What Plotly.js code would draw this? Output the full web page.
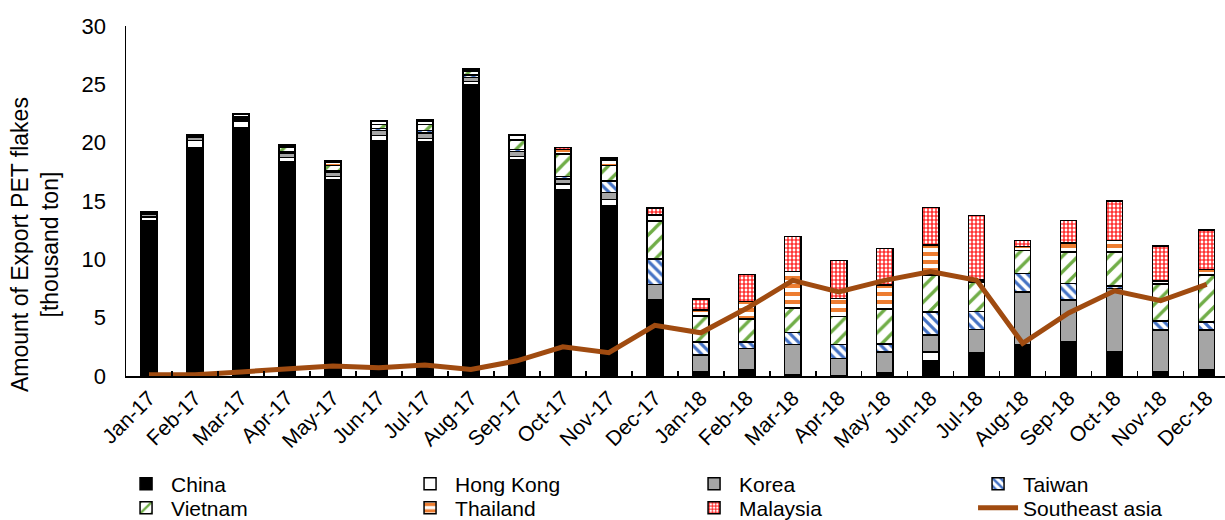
<!DOCTYPE html>
<html>
<head>
<meta charset="utf-8">
<script src="https://cdn.plot.ly/plotly-3.0.1.min.js"></script>
<style>
  html, body { margin: 0; padding: 0; background: #ffffff; }
  #chart { width: 1225px; height: 520px; }
</style>
</head>
<body>
<div id="chart"></div>
<script>
// Monthly export of PET flakes by destination, thousand ton
const months = ['Jan-17','Feb-17','Mar-17','Apr-17','May-17','Jun-17','Jul-17','Aug-17','Sep-17','Oct-17','Nov-17','Dec-17',
                'Jan-18','Feb-18','Mar-18','Apr-18','May-18','Jun-18','Jul-18','Aug-18','Sep-18','Oct-18','Nov-18','Dec-18'];

const china    = [13.35, 19.55, 21.25, 18.35, 16.85, 20.2, 20.05, 24.95, 18.5, 16.0, 14.6, 6.55,
                  0.4, 0.55, 0.1, 0.05, 0.25, 1.35, 2.0, 2.65, 2.9, 2.05, 0.4, 0.5];
const hongKong = [0.3, 0.65, 0.6, 0.4, 0.25, 0.4, 0.3, 0.3, 0.3, 0.45, 0.55, 0,
                  0, 0, 0, 0, 0, 0.7, 0, 0.05, 0, 0, 0, 0];
const korea    = [0.2, 0.25, 0.2, 0.35, 0.4, 0.45, 0.5, 0.35, 0.45, 0.45, 0.6, 1.3,
                  1.4, 1.8, 2.6, 1.45, 1.8, 1.45, 2.0, 4.5, 3.6, 5.45, 3.55, 3.45];
const taiwan   = [0.1, 0.1, 0.05, 0.1, 0.1, 0.15, 0.2, 0.2, 0.15, 0.2, 0.95, 2.2,
                  1.1, 0.55, 1.05, 1.2, 0.7, 2.0, 1.55, 1.6, 1.45, 0.2, 0.75, 0.7];
const vietnam  = [0.05, 0.05, 0.15, 0.4, 0.45, 0.35, 0.5, 0.3, 0.85, 1.95, 1.35, 3.25,
                  2.25, 2.0, 2.1, 2.4, 3.0, 3.15, 2.5, 1.95, 2.7, 2.95, 3.2, 4.0];
const thailand = [0.05, 0.05, 0.15, 0.1, 0.3, 0.25, 0.3, 0.15, 0.35, 0.35, 0.45, 0.5,
                  0.5, 1.5, 3.1, 1.55, 2.05, 2.6, 0.2, 0.35, 0.75, 0.95, 0.25, 0.5];
const malaysia = [0, 0, 0.05, 0.1, 0.1, 0.1, 0.15, 0.1, 0.1, 0.2, 0.2, 0.6,
                  0.95, 2.3, 3.0, 3.25, 3.15, 3.2, 5.5, 0.5, 1.95, 3.4, 3.0, 3.35];
const southeastAsia = [0.1, 0.1, 0.35, 0.6, 0.85, 0.7, 0.95, 0.55, 1.3, 2.5, 2.0, 4.35,
                       3.7, 5.8, 8.2, 7.2, 8.2, 8.95, 8.2, 2.8, 5.4, 7.3, 6.45, 7.85];

const FONT = 'Liberation Sans, Arial, sans-serif';
const EDGE = { color: '#000000', width: 1.5 };
const BAR_W = 0.35;

function solidBar(name, values, color, legendId) {
  return {
    type: 'bar', name: name, x: months, y: values, width: BAR_W, legend: legendId,
    marker: { color: color, line: EDGE },
    hoverinfo: 'x+y+name'
  };
}

function patternBar(name, values, shape, fg, size, solidity, legendId) {
  return {
    type: 'bar', name: name, x: months, y: values, width: BAR_W, legend: legendId,
    marker: {
      color: '#ffffff',
      line: EDGE,
      pattern: { shape: shape, fgcolor: fg, bgcolor: '#ffffff', size: size, solidity: solidity, fillmode: 'replace' }
    },
    hoverinfo: 'x+y+name'
  };
}

const traces = [
  solidBar('China', china, '#000000', 'legend'),
  solidBar('Hong Kong', hongKong, '#ffffff', 'legend'),
  solidBar('Korea', korea, '#a5a5a5', 'legend'),
  patternBar('Taiwan', taiwan, '\\', '#4472c4', 7, 0.45, 'legend'),
  patternBar('Vietnam', vietnam, '/', '#70ad47', 11, 0.3, 'legend2'),
  patternBar('Thailand', thailand, '-', '#ed7d31', 8, 0.5, 'legend2'),
  patternBar('Malaysia', malaysia, '+', '#ff0000', 4, 0.5, 'legend2'),
  {
    type: 'scatter', mode: 'lines', name: 'Southeast asia', legend: 'legend2',
    x: months, y: southeastAsia,
    line: { color: '#a04b10', width: 5 }
  }
];

// Two single-row legends laid out as a 4-column grid under the axis
function legendRow(yCenter) {
  return {
    orientation: 'h', traceorder: 'normal',
    xref: 'paper', yref: 'paper',
    x: -0.0045, xanchor: 'left', y: yCenter, yanchor: 'middle',
    entrywidth: 229, entrywidthmode: 'pixels',
    font: { family: FONT, size: 21, color: '#000000' },
    itemwidth: 40, bgcolor: 'rgba(0,0,0,0)'
  };
}

const layout = {
  width: 1225, height: 520,
  margin: { l: 126, r: 0, t: 26, b: 144, autoexpand: false },
  paper_bgcolor: '#ffffff', plot_bgcolor: '#ffffff',
  font: { family: FONT, size: 20, color: '#000000' },
  barmode: 'stack',
  showlegend: true,
  legend: legendRow((376 - 484) / 350),
  legend2: legendRow((376 - 508) / 350),
  xaxis: {
    type: 'category', range: [-0.5, 23.4],
    showline: true, linecolor: '#000000', linewidth: 1.5,
    ticks: 'inside', tickson: 'boundaries', ticklen: 5, tickcolor: '#000000', tickwidth: 1.5,
    tickangle: -45, tickfont: { family: FONT, size: 21 },
    showgrid: false, zeroline: false, fixedrange: true
  },
  yaxis: {
    range: [0, 30], dtick: 5,
    showline: true, linecolor: '#000000', linewidth: 1.5,
    ticks: '', ticklabelstandoff: 14,
    tickfont: { family: FONT, size: 22 },
    showgrid: false, zeroline: false, fixedrange: true
  },
  annotations: [{
    text: 'Amount of Export PET flakes<br>[thousand ton]',
    xref: 'paper', yref: 'paper',
    x: (35 - 126) / 1099, y: (376 - 245) / 350,
    xanchor: 'center', yanchor: 'middle',
    textangle: -90, showarrow: false,
    font: { family: FONT, size: 23, color: '#000000' }
  }]
};

Plotly.newPlot('chart', traces, layout, { displayModeBar: false, staticPlot: true });
</script>
</body>
</html>
